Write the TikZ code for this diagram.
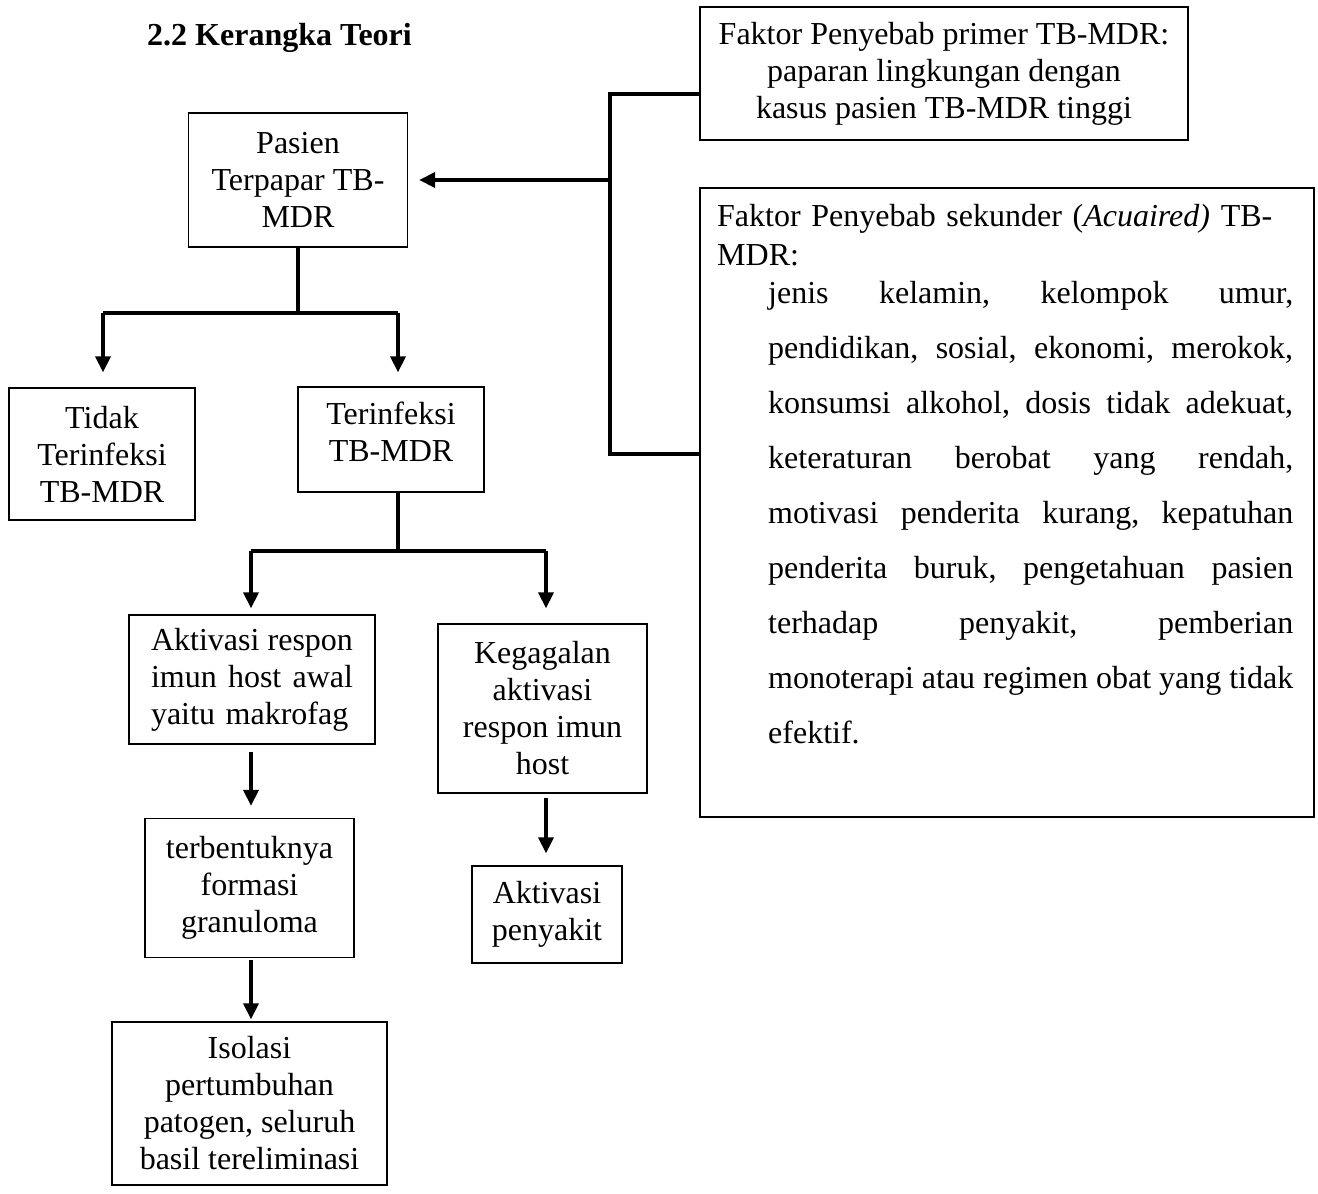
\documentclass[tikz,border=0pt]{standalone}
\usepackage{fontspec}
\setmainfont{Liberation Serif}
\usetikzlibrary{arrows.meta, positioning}

\newcommand{\barisrata}[2]{\leavevmode\hbox to #1{\frenchspacing\spaceskip=0.25em plus 1fil minus 0.12em\relax #2}}

\begin{document}
\begin{tikzpicture}[
    x=1pt, y=-1pt,
    kotak/.style={
      draw, line width=1.3pt, align=center, inner sep=0pt,
      font=\fontsize{32}{37}\selectfont
    },
    garis/.style={line width=3.6pt},
    panah/.style={garis, -{Triangle[length=16pt, width=15pt]}, shorten >=12pt},
  ]
  \useasboundingbox (0,0) rectangle (1318,1194);

  % Judul
  \node[anchor=west, inner sep=0pt, font=\fontsize{32}{37}\selectfont\bfseries] (judul) at (147,38) {2.2 Kerangka Teori};

  % Kolom kiri
  \node[kotak, minimum width=219pt, minimum height=134pt] (pasien) at (298,180) {Pasien\\Terpapar TB-\\MDR};
  \node[kotak, minimum width=186pt, minimum height=132pt] (tidak) at (102,454) {Tidak\\Terinfeksi\\TB-MDR};
  \node[kotak, minimum width=186pt, minimum height=105pt, text depth=15pt] (terinfeksi) at (391,439.5) {Terinfeksi\\TB-MDR};
  \node[kotak, minimum width=246pt, minimum height=129pt, text width=202pt, align=left] (aktivasi) at (252,679.5)
    {\barisrata{202pt}{Aktivasi respon}\\\barisrata{202pt}{imun host awal}\\yaitu makrofag};
  \node[kotak, minimum width=209pt, minimum height=139pt] (terbentuknya) at (249.5,888) {terbentuknya\\formasi\\granuloma};
  \node[kotak, minimum width=275pt, minimum height=163pt] (isolasi) at (249.5,1103.5) {Isolasi\\pertumbuhan\\patogen, seluruh\\basil tereliminasi};
  \node[kotak, minimum width=209pt, minimum height=169pt] (kegagalan) at (542.5,708.5) {Kegagalan\\aktivasi\\respon imun\\host};
  \node[kotak, minimum width=150pt, minimum height=97pt] (penyakit) at (547,914.5) {Aktivasi\\penyakit};

  % Faktor penyebab
  \node[kotak, minimum width=488pt, minimum height=133pt] (primer) at (944,73.5)
    {Faktor Penyebab primer TB-MDR:\\paparan lingkungan dengan\\kasus pasien TB-MDR tinggi};
  \node[draw, line width=1.3pt, inner sep=0pt, minimum width=614pt, minimum height=629pt] (sekunder) at (1007,502.5) {};
  \node[anchor=north west, inner sep=0pt, text width=590pt, align=left, font=\fontsize{32}{39}\selectfont] (sekunderjudul) at (717,204)
    {Faktor Penyebab sekunder (\textit{Acuaired)} TB-\\MDR:};
  \node[anchor=north west, inner sep=0pt, text width=525pt, align=left, font=\fontsize{32}{55}\selectfont] (sekunderdaftar) at (768,281)
    {\barisrata{525pt}{jenis kelamin, kelompok umur,}\\
     \barisrata{525pt}{pendidikan, sosial, ekonomi, merokok,}\\
     \barisrata{525pt}{konsumsi alkohol, dosis tidak adekuat,}\\
     \barisrata{525pt}{keteraturan berobat yang rendah,}\\
     \barisrata{525pt}{motivasi penderita kurang, kepatuhan}\\
     \barisrata{525pt}{penderita buruk, pengetahuan pasien}\\
     \barisrata{525pt}{terhadap penyakit, pemberian}\\
     \barisrata{525pt}{monoterapi atau regimen obat yang tidak}\\
     efektif.};

  % Kurung penghubung faktor -> pasien
  \coordinate (cabang) at (610,180);
  \draw[garis] ([yshift=-20.5pt]primer.west) -| (cabang) |- ([yshift=48.5pt]sekunder.west);
  \draw[panah, shorten >=11pt] (cabang) -- (pasien.east);

  % Cabang dari pasien
  \coordinate (kiriA) at (103,313);
  \coordinate (kananA) at (398,313);
  \draw[garis] (pasien.south) -- (pasien.south |- kiriA);
  \draw[garis] (kiriA) -- (kananA);
  \draw[panah, shorten >=15pt] (kiriA) -- (kiriA |- tidak.north);
  \draw[panah, shorten >=14pt] (kananA) -- (kananA |- terinfeksi.north);

  % Cabang dari terinfeksi
  \coordinate (kiriB) at (251,551);
  \coordinate (kananB) at (546,551);
  \draw[garis] (kananA |- terinfeksi.south) -- (kananA |- kiriB);
  \draw[garis] (kiriB) -- (kananB);
  \draw[panah, shorten >=6pt] (kiriB) -- (kiriB |- aktivasi.north);
  \draw[panah, shorten >=15pt] (kananB) -- (kananB |- kegagalan.north);

  % Alur ke bawah
  \draw[panah, shorten <=7pt] (kiriB |- aktivasi.south) -- (kiriB |- terbentuknya.north);
  \draw[panah, shorten <=2pt, shorten >=2pt] (kiriB |- terbentuknya.south) -- (kiriB |- isolasi.north);
  \draw[panah, shorten <=4pt] (kananB |- kegagalan.south) -- (kananB |- penyakit.north);
\end{tikzpicture}
\end{document}
